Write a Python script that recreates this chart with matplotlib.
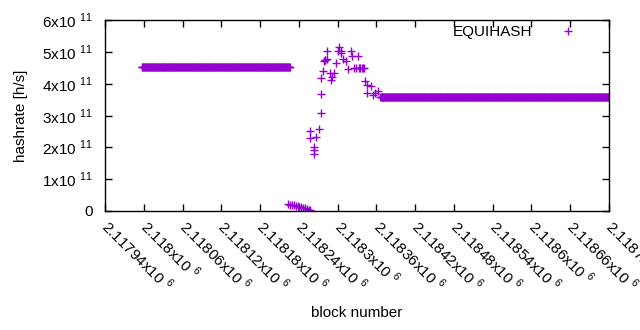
import numpy as np
import matplotlib
matplotlib.use("Agg")
import matplotlib.pyplot as plt
from matplotlib.ticker import FixedLocator, FuncFormatter

plt.rcParams['font.family'] = ['Liberation Sans', 'DejaVu Sans']
plt.rcParams['mathtext.fontset'] = 'custom'
plt.rcParams['mathtext.rm'] = 'Liberation Sans'
plt.rcParams['font.size'] = 11

# steady hashrate before the drop (one point per block)
left_first, left_last, left_rate = 2117997, 2118226, 4.53e11
# steady hashrate after recovery
right_first, right_last, right_rate = 2118366, 2118730, 3.58e11

# near-zero stretch
low_blocks = [2118223, 2118226, 2118229, 2118232, 2118235, 2118238, 2118241,
              2118244, 2118247, 2118250, 2118253, 2118256, 2118258]
low_rates = [0.22e11, 0.20e11, 0.19e11, 0.18e11, 0.17e11, 0.15e11, 0.14e11,
             0.12e11, 0.10e11, 0.08e11, 0.06e11, 0.04e11, 0.02e11]

# scattered recovery points
rec_blocks = [2118257, 2118258, 2118263, 2118264, 2118263, 2118266, 2118271,
              2118274, 2118274, 2118275, 2118277, 2118279, 2118280, 2118281,
              2118283, 2118284, 2118288, 2118290, 2118292, 2118294, 2118297,
              2118300, 2118302, 2118305, 2118306, 2118309, 2118313, 2118316,
              2118320, 2118322, 2118325, 2118329, 2118331, 2118333, 2118335,
              2118337, 2118339, 2118341, 2118343, 2118345, 2118346, 2118351,
              2118355, 2118358, 2118362]
rec_rates = [2.52e11, 2.29e11, 2.02e11, 1.92e11, 1.78e11, 2.34e11, 2.58e11,
             3.07e11, 3.67e11, 4.18e11, 4.39e11, 4.71e11, 4.75e11, 4.73e11,
             5.02e11, 4.78e11, 4.34e11, 4.13e11, 4.20e11, 4.34e11, 4.65e11,
             5.04e11, 5.15e11, 5.02e11, 4.95e11, 4.76e11, 4.70e11, 4.45e11,
             5.04e11, 4.86e11, 4.50e11, 4.50e11, 4.86e11, 4.48e11, 4.48e11,
             4.48e11, 4.48e11, 4.48e11, 4.08e11, 3.95e11, 3.71e11, 3.92e11,
             3.64e11, 3.70e11, 3.76e11]

x_ticks = [2117940, 2118000, 2118060, 2118120, 2118180, 2118240, 2118300,
           2118360, 2118420, 2118480, 2118540, 2118600, 2118660, 2118720]
y_ticks = [0, 1e11, 2e11, 3e11, 4e11, 5e11, 6e11]

purple = '#9400d3'

blocks = np.concatenate([np.arange(left_first, left_last + 1), low_blocks,
                         rec_blocks, np.arange(right_first, right_last + 1)])
rates = np.concatenate([np.full(left_last - left_first + 1, left_rate), low_rates,
                        rec_rates, np.full(right_last - right_first + 1, right_rate)])

fig = plt.figure(figsize=(6.4, 3.3), dpi=100)
ax = fig.add_axes([105 / 640, 1 - 211 / 330, 504 / 640, 191 / 330])

ax.plot(blocks, rates, '+', color=purple, ms=6, mew=1, label='EQUIHASH')

ax.set_xlim(2117940, 2118720)
ax.set_ylim(0, 6e11)
ax.xaxis.set_major_locator(FixedLocator(x_ticks))
ax.yaxis.set_major_locator(FixedLocator(y_ticks))


def fmt_x(v, pos):
    s = f"{v / 1e6:.5f}".rstrip('0').rstrip('.')
    return s + r'x10 $^{\mathregular{6}}$'


def fmt_y(v, pos):
    if v == 0:
        return '0'
    return f"{int(round(v / 1e11))}" + r'x10 $^{\mathregular{11}}$'


ax.xaxis.set_major_formatter(FuncFormatter(fmt_x))
ax.yaxis.set_major_formatter(FuncFormatter(fmt_y))
ax.tick_params(direction='in', length=5, width=1, top=True, right=True,
               colors='black', labelsize=11)
ax.tick_params(axis='x', pad=9)
ax.tick_params(axis='y', pad=9)
for lab in ax.get_xticklabels():
    lab.set_rotation(-45)
    lab.set_ha('left')
    lab.set_va('center')
    lab.set_rotation_mode('anchor')

for sp in ax.spines.values():
    sp.set_linewidth(1)

ax.set_xlabel('block number', labelpad=8)
ax.set_ylabel('hashrate [h/s]', labelpad=10)

ax.legend(loc='upper right', frameon=False, markerfirst=False,
          handlelength=2.5, handletextpad=1.1, borderaxespad=0.3,
          bbox_to_anchor=(0.978, 1.03))

fig.savefig('out.png', dpi=100)
